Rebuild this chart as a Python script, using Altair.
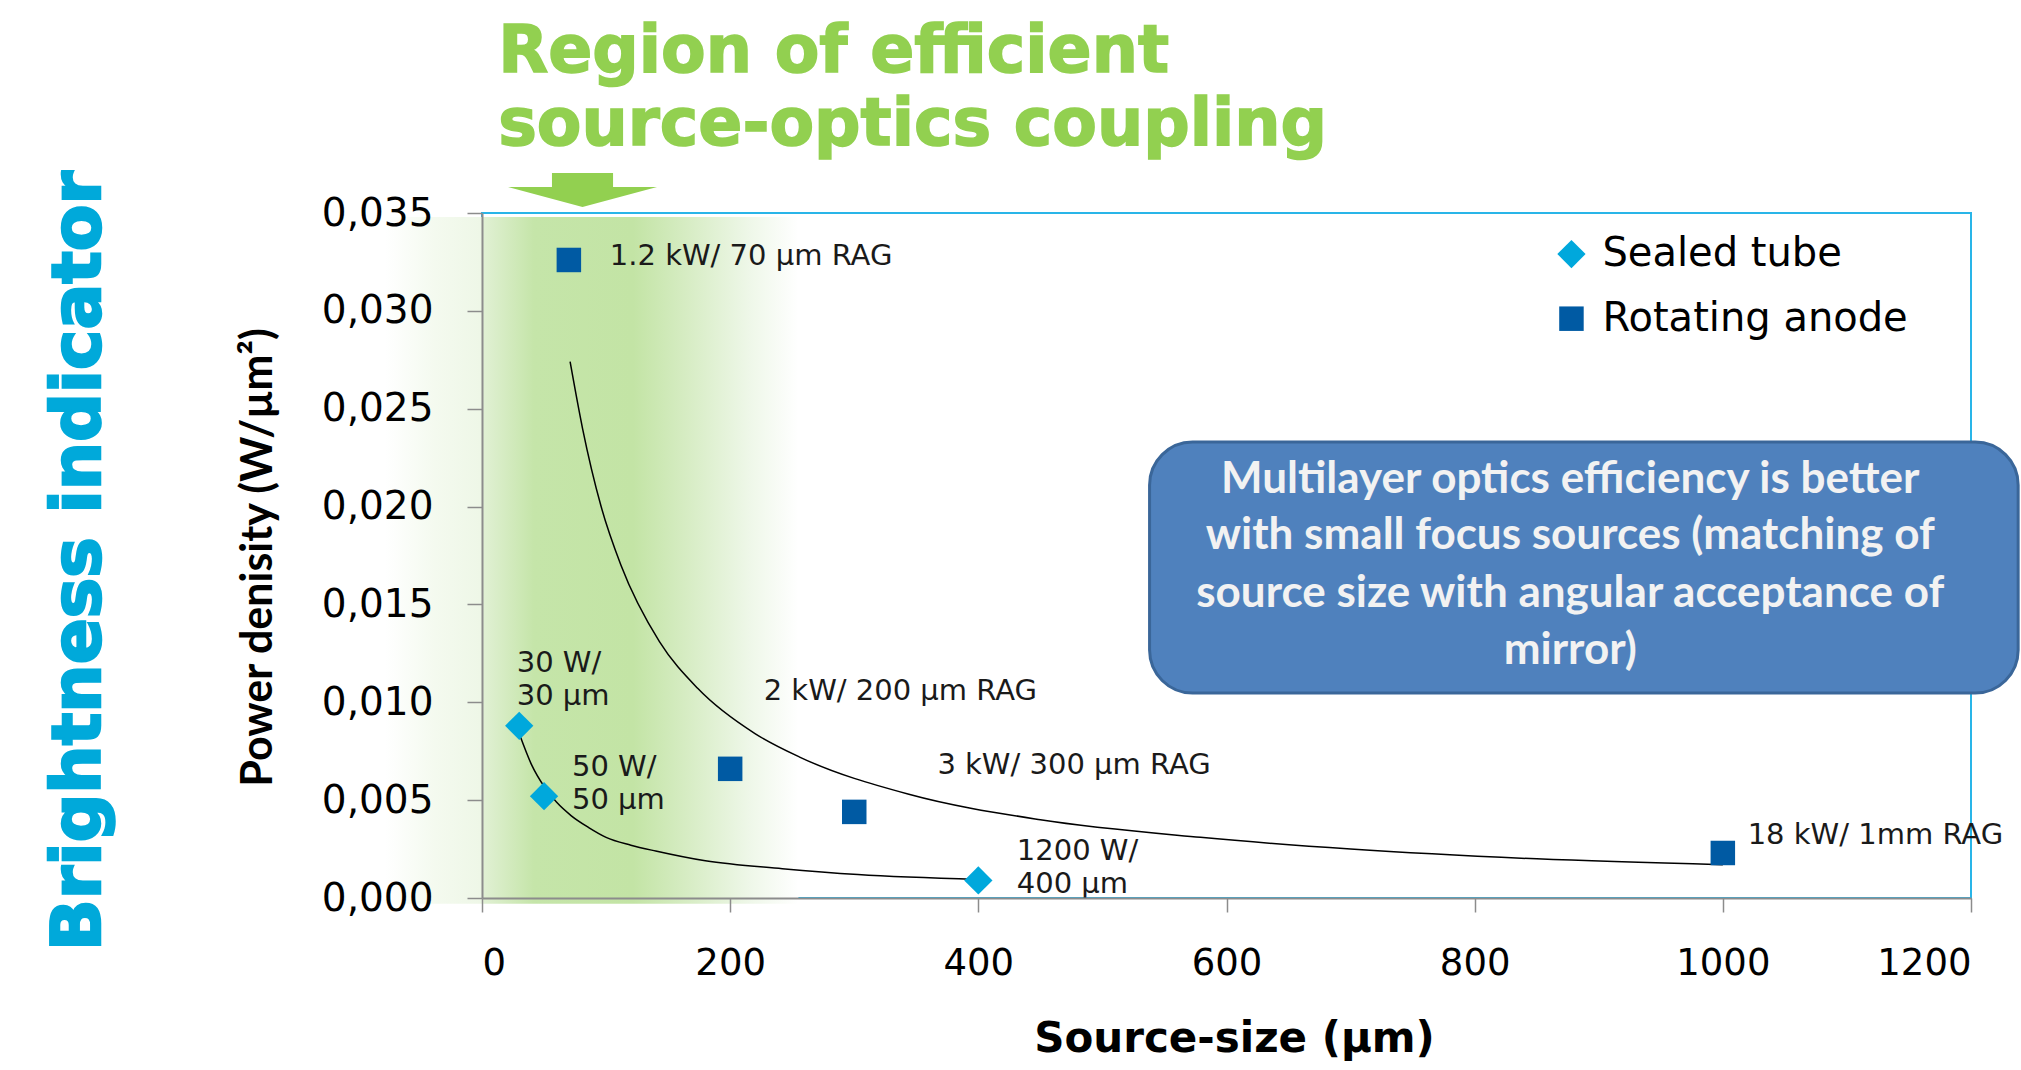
import altair as alt
import pandas as pd

# ---------------- data ----------------
series_names = ["Sealed tube", "Rotating anode"]
series_colors = ["#00A8DC", "#005AA3"]
series_shapes = ["diamond", "square"]

sealed_x = [30, 50, 400]
sealed_y = [0.0088, 0.0052, 0.0009]
anode_x = [70, 200, 300, 1000]
anode_y = [0.0326, 0.0066, 0.0044, 0.0023]

# trend curves
upper_x = [71, 81, 96, 112, 143, 174, 220, 256, 344, 450, 579, 700, 850, 1000]
upper_y = [0.0274, 0.0240, 0.0200, 0.0170, 0.0131, 0.0107, 0.0084, 0.0072,
           0.0053, 0.0040, 0.0031, 0.0025, 0.0020, 0.0017]
lower_x = [30, 40, 50, 60, 72, 86, 100, 120, 140, 180, 242, 303, 400]
lower_y = [0.0084, 0.0068, 0.0057, 0.0049, 0.0042, 0.0036, 0.0031, 0.0027,
           0.0024, 0.0019, 0.0015, 0.0012, 0.00095]

# point annotations
label_text = ["1.2 kW/ 70 µm RAG", "30 W/", "30 µm", "50 W/", "50 µm",
              "2 kW/ 200 µm RAG", "3 kW/ 300 µm RAG", "1200 W/", "400 µm",
              "18 kW/ 1mm RAG"]
label_x = [103, 28, 28, 72.5, 72.5, 227, 367, 431, 431, 1020]
label_y = [0.0328, 0.0120, 0.0103, 0.0067, 0.0050, 0.0106, 0.0068, 0.0024,
           0.0007, 0.0032]

box_lines = ["Multilayer optics efficiency is better",
             "with small focus sources (matching of",
             "source size with angular acceptance of",
             "mirror)"]
title_lines = ["Region of efficient", "source-optics coupling"]

x_ticks = [0, 200, 400, 600, 800, 1000, 1200]
y_ticks = [0, 0.005, 0.010, 0.015, 0.020, 0.025, 0.030, 0.035]

# ---------------- scales ----------------
xs = alt.Scale(domain=[0, 1200], nice=False, zero=False)
ys = alt.Scale(domain=[0, 0.035], nice=False, zero=False)

pts = pd.DataFrame({
    "series": [series_names[0]] * len(sealed_x) + [series_names[1]] * len(anode_x),
    "x": sealed_x + anode_x,
    "y": sealed_y + anode_y,
})

color_enc = alt.Color("series:N", scale=alt.Scale(domain=series_names, range=series_colors), legend=None)
shape_enc = alt.Shape("series:N", scale=alt.Scale(domain=series_names, range=series_shapes), legend=None)
size_enc = alt.Size("series:O", scale=alt.Scale(domain=series_names, range=[800, 600]), legend=None)

x_axis = alt.Axis(values=x_ticks, format="d", grid=False, zindex=1,
                  domainColor="#8C8C8C", domainWidth=2, tickColor="#8C8C8C",
                  tickSize=14, tickWidth=1.5, labelFont="DejaVu Sans",
                  labelFontSize=37, labelColor="#000000", labelPadding=33,
                  title="Source-size (µm)", titleFont="DejaVu Sans",
                  titleFontWeight="bold", titleFontSize=42, titleColor="#000000",
                  titleX=752, titleY=140, titleAlign="center", titleBaseline="middle")
y_axis = alt.Axis(values=y_ticks, grid=False, zindex=1,
                  labelExpr="replace(format(datum.value, '.3f'), '.', ',')",
                  domainColor="#8C8C8C", domainWidth=2, tickColor="#8C8C8C",
                  tickSize=15, tickWidth=1.5, labelFont="DejaVu Sans",
                  labelFontSize=39, labelColor="#000000", labelPadding=34,
                  title="Power denisity (W/µm²)", titleFont="Lato",
                  titleFontWeight="bold", titleFontSize=43, titleColor="#000000",
                  titleX=-224, titleY=344, titleAlign="center", titleBaseline="middle")

# green gradient region
region = pd.DataFrame({"x": [-78], "x2": [255], "y": [-0.0003], "y2": [0.0348]})
grad = alt.LinearGradient(
    gradient="linear", x1=0, x2=1, y1=0, y2=0,
    stops=[alt.GradientStop(offset=0.0, color="#FFFFFF"),
           alt.GradientStop(offset=0.12, color="#F4FAEF"),
           alt.GradientStop(offset=0.23, color="#EEF7E7"),
           alt.GradientStop(offset=0.24, color="#E0F0D3"),
           alt.GradientStop(offset=0.36, color="#C5E5A9"),
           alt.GradientStop(offset=0.60, color="#C3E4A5"),
           alt.GradientStop(offset=0.74, color="#D8EDC6"),
           alt.GradientStop(offset=0.88, color="#EEF7E8"),
           alt.GradientStop(offset=1.0, color="#FFFFFF")])
region_layer = alt.Chart(region).mark_rect(color=grad).encode(
    x=alt.X("x:Q", scale=xs, axis=x_axis), x2="x2:Q",
    y=alt.Y("y:Q", scale=ys, axis=y_axis), y2="y2:Q")

upper = pd.DataFrame({"x": upper_x, "y": upper_y})
lower = pd.DataFrame({"x": lower_x, "y": lower_y})
upper_layer = alt.Chart(upper).mark_line(color="#000000", strokeWidth=1.5, interpolate="monotone").encode(
    x=alt.X("x:Q", scale=xs), y=alt.Y("y:Q", scale=ys))
lower_layer = alt.Chart(lower).mark_line(color="#000000", strokeWidth=1.5, interpolate="monotone").encode(
    x=alt.X("x:Q", scale=xs), y=alt.Y("y:Q", scale=ys))

point_layer = alt.Chart(pts).mark_point(filled=True, opacity=1).encode(
    x=alt.X("x:Q", scale=xs), y=alt.Y("y:Q", scale=ys),
    color=color_enc, shape=shape_enc, size=size_enc)

labels = pd.DataFrame({"t": label_text, "x": label_x, "y": label_y})
label_layer = alt.Chart(labels).mark_text(align="left", baseline="middle", font="DejaVu Sans",
                                          fontSize=29, color="#1A1A1A").encode(
    x=alt.X("x:Q", scale=xs), y=alt.Y("y:Q", scale=ys), text="t:N")

# legend (inside plot, top right)
leg = pd.DataFrame({"series": series_names, "x": [878, 878], "tx": [903, 903], "y": [0.0329, 0.0296]})
leg_sym = alt.Chart(leg).mark_point(filled=True, opacity=1).encode(
    x=alt.X("x:Q", scale=xs), y=alt.Y("y:Q", scale=ys),
    color=color_enc, shape=shape_enc, size=size_enc)
leg_txt = alt.Chart(leg).mark_text(align="left", baseline="middle", font="DejaVu Sans",
                                   fontSize=40, color="#000000").encode(
    x=alt.X("tx:Q", scale=xs), y=alt.Y("y:Q", scale=ys), text="series:N")

# callout box
box = pd.DataFrame({"x": [538], "x2": [1238], "y": [0.01047], "y2": [0.0233]})
box_layer = alt.Chart(box).mark_rect(cornerRadius=43, fill="#4F81BD", stroke="#3A6699",
                                     strokeWidth=3).encode(
    x=alt.X("x:Q", scale=xs), x2="x2:Q", y=alt.Y("y:Q", scale=ys), y2="y2:Q")
box_txt = pd.DataFrame({"t": box_lines, "x": [877] * 4, "y": [0.02136, 0.0185, 0.01553, 0.01262]})
box_txt_layer = alt.Chart(box_txt).mark_text(align="center", baseline="middle", font="Lato",
                                             fontWeight="bold", fontSize=44, color="#F2F2F2").encode(
    x=alt.X("x:Q", scale=xs), y=alt.Y("y:Q", scale=ys), text="t:N")

# green heading and arrow
head = pd.DataFrame({"t": title_lines, "x": [13, 13], "y": [0.0422, 0.0385]})
head_layer = alt.Chart(head).mark_text(align="left", baseline="alphabetic", font="DejaVu Sans",
                                       fontWeight="bold", fontSize=65, color="#92D050",
                                       stroke="#92D050", strokeWidth=1.5).encode(
    x=alt.X("x:Q", scale=xs), y=alt.Y("y:Q", scale=ys), text="t:N")
arrow_path = "M -0.41 -0.228 L 0.41 -0.228 L 0.41 -0.04 L 1 -0.04 L 0 0.228 L -1 -0.04 L -0.41 -0.04 Z"
arrow = pd.DataFrame({"x": [81], "y": [0.03618]})
arrow_layer = alt.Chart(arrow).mark_point(shape=arrow_path, size=22201, filled=True, opacity=1,
                                          color="#92D050", strokeWidth=0).encode(
    x=alt.X("x:Q", scale=xs), y=alt.Y("y:Q", scale=ys))

side = pd.DataFrame({"t": ["Brightness indicator"], "x": [-324], "y": [0.01722]})
side_layer = alt.Chart(side).mark_text(angle=270, align="center", baseline="middle",
                                       font="DejaVu Sans", fontWeight="bold", fontSize=68,
                                       color="#00A9DA", stroke="#00A9DA", strokeWidth=2.5).encode(
    x=alt.X("x:Q", scale=xs), y=alt.Y("y:Q", scale=ys), text="t:N")

chart = alt.layer(
    region_layer, upper_layer, lower_layer, point_layer, label_layer,
    leg_sym, leg_txt, box_layer, box_txt_layer, head_layer, arrow_layer, side_layer
).properties(
    width=1489, height=685,
    autosize=alt.AutoSizeParams(type="none"),
    padding={"left": 482, "top": 213, "right": 50, "bottom": 172},
    background="#FFFFFF",
).configure_view(stroke="#29B5E8", strokeWidth=2)

chart.save("out.html", embed_options={"renderer": "svg", "actions": False})
